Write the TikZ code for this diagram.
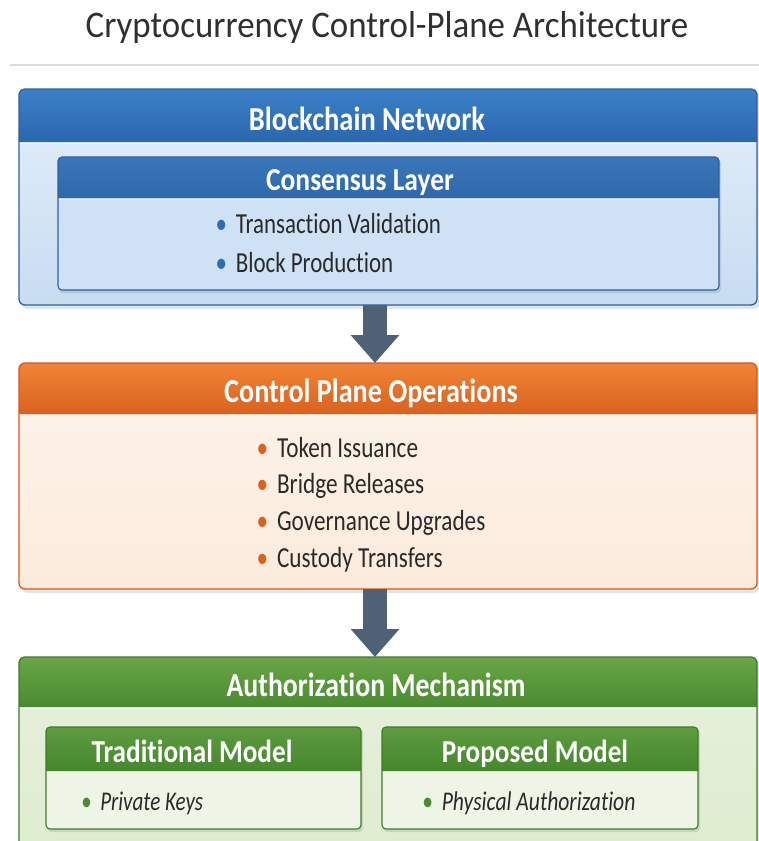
\documentclass[tikz,border=0pt]{standalone}
\usepackage{fontspec}
\setmainfont{Carlito}[Ligatures=NoCommon]
\usetikzlibrary{arrows.meta}

\definecolor{ink}{HTML}{2A2A2A}
\definecolor{titleink}{HTML}{303030}
\definecolor{arrowc}{HTML}{4E6175}
% blue panel
\definecolor{bHeadTop}{HTML}{3C80C8}
\definecolor{bHeadBot}{HTML}{2A66AC}
\definecolor{bBodyTop}{HTML}{E4EFFA}
\definecolor{bBodyBot}{HTML}{C8DCF1}
\definecolor{bLine}{HTML}{2C619F}
\definecolor{bInHeadTop}{HTML}{3B76BA}
\definecolor{bInHeadBot}{HTML}{2E68AA}
\definecolor{bInBody}{HTML}{CFE1F4}
\definecolor{bDot}{HTML}{2F6DB0}
% orange panel
\definecolor{oHeadTop}{HTML}{F08436}
\definecolor{oHeadBot}{HTML}{D9611F}
\definecolor{oBodyTop}{HTML}{FDF3EA}
\definecolor{oBodyBot}{HTML}{FBEBDC}
\definecolor{oLine}{HTML}{D35A1D}
\definecolor{oDot}{HTML}{D9621F}
% green panel
\definecolor{gHeadTop}{HTML}{6AA548}
\definecolor{gHeadBot}{HTML}{4A8A30}
\definecolor{gBodyTop}{HTML}{E6F1DB}
\definecolor{gBodyBot}{HTML}{DCEBCD}
\definecolor{gLine}{HTML}{3F7A2A}
\definecolor{gInHeadTop}{HTML}{5E9C3F}
\definecolor{gInHeadBot}{HTML}{46862D}
\definecolor{gInBody}{HTML}{EEF5E6}
\definecolor{gDot}{HTML}{4A8A30}

% horizontally condensed text
\newcommand{\sq}[2][0.8]{\scalebox{#1}[1]{#2}}
\newcommand{\bul}[1]{\textcolor{#1}{\textbullet}\hspace{11pt}}

\begin{document}
\begin{tikzpicture}[x=1pt,y=-1pt,
  panel/.style={inner sep=0pt, outer sep=0pt, rounded corners=6pt},
  hdr/.style={font=\bfseries\fontsize{33.5}{38}\selectfont, text=white, anchor=base, inner sep=0pt},
  subhdr/.style={font=\bfseries\fontsize{32}{36}\selectfont, text=white, anchor=base, inner sep=0pt},
  itm/.style={font=\fontsize{29}{33}\selectfont, text=ink, anchor=base west, inner sep=0pt},
  itmit/.style={font=\itshape\fontsize{27}{32}\selectfont, text=ink, anchor=base west, inner sep=0pt},
  conn/.style={draw=arrowc, line width=24pt, -{Triangle[length=28pt,width=47pt]}},
  shadow/.style={fill=black, opacity=0.10, rounded corners=7pt},
]
\useasboundingbox (0,0) rectangle (759,841);
\clip (0,0) rectangle (759,841);
\fill[white] (0,0) rectangle (759,841);

% ---------- title ----------
\node[font=\fontsize{37.5}{42}\selectfont, text=titleink, anchor=base, inner sep=0pt]
  (title) at (387,37.5) {\sq[0.93]{Cryptocurrency Control-Plane Architecture}};
\draw[black!14, line width=1.6pt] (10,65) -- (759,65);

% ---------- blockchain network ----------
\fill[shadow] (21,92) rectangle (760,309);
\node[panel, top color=bBodyTop, bottom color=bBodyBot,
      minimum width=738pt, minimum height=216pt] (bc) at (388,197) {};
\coordinate (bcH) at (0,143);
\path[top color=bHeadTop, bottom color=bHeadBot]
  (bc.west |- bcH) [rounded corners=6pt] -- (bc.north west) -- (bc.north east)
  [sharp corners] -- (bc.east |- bcH) -- cycle;
\draw[white, opacity=0.8, line width=1.5pt] (bc.west |- bcH) -- (bc.east |- bcH);
\draw[bLine, line width=1.3pt, rounded corners=6pt] (bc.north west) rectangle (bc.south east);
\node[hdr] (bcT) at (367,130) {\sq[0.85]{Blockchain Network}};

% consensus layer
\fill[shadow, rounded corners=4pt] (59,159) rectangle (721,293);
\node[panel, rounded corners=4pt, fill=bInBody,
      minimum width=661pt, minimum height=133pt] (cl) at (388.5,223.5) {};
\coordinate (clH) at (0,199);
\path[top color=bInHeadTop, bottom color=bInHeadBot]
  (cl.west |- clH) [rounded corners=4pt] -- (cl.north west) -- (cl.north east)
  [sharp corners] -- (cl.east |- clH) -- cycle;
\draw[white, opacity=0.7, line width=1.2pt] (cl.west |- clH) -- (cl.east |- clH);
\draw[bLine, line width=1.1pt, rounded corners=4pt] (cl.north west) rectangle (cl.south east);
\node[subhdr] (clT) at (360,190) {\sq[0.86]{Consensus Layer}};
\node[itm] (cl1) at (215.5,233) {\sq[0.79]{\bul{bDot}Transaction Validation}};
\node[itm] (cl2) at (215.5,272) {\sq[0.79]{\bul{bDot}Block Production}};

% ---------- control plane operations ----------
\fill[shadow] (21,366) rectangle (760,593);
\node[panel, top color=oBodyTop, bottom color=oBodyBot,
      minimum width=738pt, minimum height=226pt] (cp) at (388,476) {};
\coordinate (cpH) at (0,415);
\path[top color=oHeadTop, bottom color=oHeadBot]
  (cp.west |- cpH) [rounded corners=6pt] -- (cp.north west) -- (cp.north east)
  [sharp corners] -- (cp.east |- cpH) -- cycle;
\draw[white, opacity=0.8, line width=1.5pt] (cp.west |- cpH) -- (cp.east |- cpH);
\draw[oLine, line width=1.3pt, rounded corners=6pt] (cp.north west) rectangle (cp.south east);
\node[hdr] (cpT) at (371,402) {\sq[0.84]{Control Plane Operations}};
\node[itm] (cp1) at (256.5,457) {\sq[0.8]{\bul{oDot}Token Issuance}};
\node[itm] (cp2) at (256.5,493) {\sq[0.8]{\bul{oDot}Bridge Releases}};
\node[itm] (cp3) at (256.5,530) {\sq[0.8]{\bul{oDot}Governance Upgrades}};
\node[itm] (cp4) at (256.5,567) {\sq[0.8]{\bul{oDot}Custody Transfers}};

% ---------- authorization mechanism ----------
\fill[shadow] (21,660) rectangle (760,900);
\node[panel, top color=gBodyTop, bottom color=gBodyBot,
      minimum width=738pt, minimum height=240pt] (am) at (388,777) {};
\coordinate (amH) at (0,708);
\path[top color=gHeadTop, bottom color=gHeadBot]
  (am.west |- amH) [rounded corners=6pt] -- (am.north west) -- (am.north east)
  [sharp corners] -- (am.east |- amH) -- cycle;
\draw[white, opacity=0.8, line width=1.5pt] (am.west |- amH) -- (am.east |- amH);
\draw[gLine, line width=1.3pt, rounded corners=6pt] (am.north west) rectangle (am.south east);
\node[hdr] (amT) at (376,696) {\sq[0.83]{Authorization Mechanism}};

% traditional model
\fill[shadow, rounded corners=4pt] (47,729) rectangle (363,832);
\node[panel, rounded corners=4pt, fill=gInBody,
      minimum width=315pt, minimum height=102pt] (tm) at (203.5,778) {};
\coordinate (tmH) at (0,771);
\path[top color=gInHeadTop, bottom color=gInHeadBot]
  (tm.west |- tmH) [rounded corners=4pt] -- (tm.north west) -- (tm.north east)
  [sharp corners] -- (tm.east |- tmH) -- cycle;
\draw[gLine, line width=1.1pt, rounded corners=4pt] (tm.north west) rectangle (tm.south east);
\node[subhdr] (tmT) at (192,762) {\sq[0.85]{Traditional Model}};
\node[itmit] (tm1) at (81,810) {\sq[0.78]{\bul{gDot}Private Keys}};

% proposed model
\fill[shadow, rounded corners=4pt] (383,729) rectangle (700,832);
\node[panel, rounded corners=4pt, fill=gInBody,
      minimum width=316pt, minimum height=102pt] (pm) at (540,778) {};
\coordinate (pmH) at (0,771);
\path[top color=gInHeadTop, bottom color=gInHeadBot]
  (pm.west |- pmH) [rounded corners=4pt] -- (pm.north west) -- (pm.north east)
  [sharp corners] -- (pm.east |- pmH) -- cycle;
\draw[gLine, line width=1.1pt, rounded corners=4pt] (pm.north west) rectangle (pm.south east);
\node[subhdr] (pmT) at (535,762) {\sq[0.85]{Proposed Model}};
\node[itmit] (pm1) at (422,810) {\sq[0.8]{\bul{gDot}Physical Authorization}};

% ---------- flow arrows (on the axis of the headings) ----------
\coordinate (ax) at (375,0);
\draw[conn] (bc.south -| ax) -- (cp.north -| ax);
\draw[conn] (cp.south -| ax) -- (am.north -| ax);
\end{tikzpicture}
\end{document}
